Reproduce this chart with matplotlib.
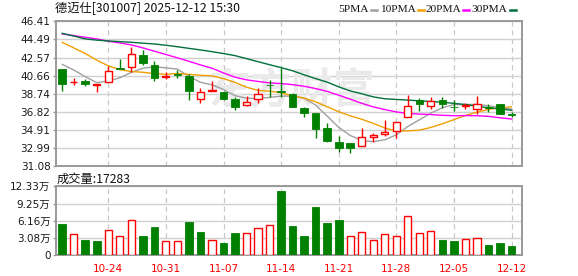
import matplotlib.pyplot as plt
from matplotlib.lines import Line2D
import numpy as np

plt.rcParams['font.family'] = ['DejaVu Sans', 'Noto Sans CJK SC']

# data
title = '德迈仕[301007] 2025-12-12 15:30'
last_volume = '17283'
date_pos = [4, 9, 14, 19, 24, 29, 34, 39]
date_labels = ['10-24', '10-31', '11-07', '11-14', '11-21', '11-28', '12-05', '12-12']

opens = [41.37, 39.95, 40.10, 39.71, 39.96, 41.47, 41.54, 42.81, 41.79, 40.56,
         40.88, 40.66, 38.20, 39.01, 38.90, 38.20, 37.53, 38.16, 39.71, 39.01,
         38.69, 37.24, 36.75, 35.13, 33.65, 33.54, 33.19, 34.14, 34.46, 34.85,
         36.26, 38.09, 37.42, 38.09, 37.39, 37.49, 37.17, 37.35, 37.63, 36.58]
highs = [41.37, 40.45, 40.31, 39.82, 41.68, 42.42, 43.73, 43.38, 42.21, 41.02,
         41.23, 40.80, 39.33, 40.06, 39.08, 38.44, 38.51, 39.33, 40.17, 41.44,
         38.83, 37.39, 36.75, 35.69, 34.32, 33.54, 35.09, 34.64, 35.94, 35.73,
         38.62, 38.27, 38.37, 38.41, 38.05, 37.77, 38.51, 37.67, 37.63, 36.86]
lows = [39.08, 39.71, 39.61, 38.97, 39.96, 41.33, 41.09, 41.79, 40.13, 40.28,
        40.38, 38.13, 37.81, 39.01, 38.09, 37.07, 37.45, 37.81, 38.44, 38.44,
        37.31, 36.29, 34.11, 33.65, 32.59, 32.52, 33.19, 33.65, 34.25, 34.11,
        36.26, 36.89, 37.17, 37.24, 36.96, 37.17, 36.65, 36.86, 36.65, 36.29]
closes = [39.82, 40.02, 39.82, 39.78, 41.12, 41.40, 42.92, 42.04, 40.45, 40.66,
          40.70, 39.08, 38.90, 39.11, 38.23, 37.39, 37.84, 38.69, 39.64, 38.93,
          37.39, 36.75, 35.06, 33.76, 33.05, 33.06, 34.14, 34.43, 34.71, 35.73,
          37.46, 37.63, 37.95, 37.63, 37.31, 37.56, 37.63, 37.28, 36.65, 36.50]
# volume in 万
volumes = [5.64, 3.80, 2.73, 2.55, 4.51, 3.44, 6.23, 3.50, 5.04, 2.55,
           2.55, 5.93, 4.15, 2.73, 2.26, 4.04, 3.98, 4.87, 5.40, 11.51,
           5.25, 3.44, 8.61, 5.76, 6.29, 3.38, 4.10, 2.67, 3.74, 3.38,
           7.00, 3.92, 4.27, 2.73, 2.55, 2.85, 3.03, 1.84, 2.20, 1.7283]

ma5 = [41.86, 41.26, 40.56, 39.92, 40.11, 40.43, 41.01, 41.45, 41.59, 41.49,
       41.35, 40.59, 39.96, 39.69, 39.20, 38.54, 38.29, 38.25, 38.36, 38.50,
       38.50, 38.28, 37.55, 36.38, 35.20, 34.34, 33.81, 33.69, 33.88, 34.41,
       35.29, 35.99, 36.70, 37.28, 37.60, 37.62, 37.62, 37.48, 37.29, 37.12]
ma10 = [44.19, 43.60, 43.00, 42.30, 41.70, 41.30, 41.10, 41.02, 40.88, 40.80,
        40.89, 40.80, 40.71, 40.64, 40.35, 39.95, 39.44, 39.11, 39.02, 38.85,
        38.52, 38.29, 37.90, 37.37, 36.85, 36.42, 36.05, 35.62, 35.13, 34.81,
        34.82, 34.90, 35.19, 35.58, 36.01, 36.46, 36.80, 37.09, 37.28, 37.36]
ma20 = [45.07, 44.90, 44.72, 44.55, 44.30, 44.12, 43.91, 43.60, 43.25, 42.90,
        42.55, 42.18, 41.80, 41.45, 40.95, 40.50, 40.22, 40.05, 39.90, 39.83,
        39.71, 39.54, 39.30, 39.00, 38.60, 38.18, 37.74, 37.36, 37.08, 36.83,
        36.67, 36.60, 36.55, 36.47, 36.43, 36.44, 36.43, 36.36, 36.21, 36.08]
ma30 = [45.14, 44.85, 44.55, 44.42, 44.33, 44.26, 44.19, 44.10, 44.01, 43.88,
        43.72, 43.55, 43.38, 43.20, 43.00, 42.78, 42.46, 42.14, 41.82, 41.51,
        41.18, 40.75, 40.35, 39.98, 39.48, 39.05, 38.75, 38.42, 38.22, 38.15,
        38.08, 38.00, 37.93, 37.86, 37.73, 37.61, 37.43, 37.27, 37.15, 37.01]

price_ticks = [31.08, 32.99, 34.91, 36.82, 38.74, 40.66, 42.57, 44.49, 46.41]
vol_ticks = [0, 3.08, 6.16, 9.25, 12.33]
vol_labels = ['0', '3.08万', '6.16万', '9.25万', '12.33万']

ma_names = ['5PMA', '10PMA', '20PMA', '30PMA']
ma_colors = ['#a0a0a0', '#f0a000', '#ff00ff', '#00703c']

RED = '#ff0000'
GREEN = '#008000'

W, H = 578, 276
fig = plt.figure(figsize=(W / 100, H / 100), dpi=100)


def box(l, t, r, b):
    return [l / W, 1 - b / H, (r - l) / W, (b - t) / H]


ax = fig.add_axes(box(56, 21.3, 522, 166.3))
axv = fig.add_axes(box(56, 186.3, 522, 255.3))

o = np.array(opens)
c = np.array(closes)
hi = np.array(highs)
lo = np.array(lows)
x = np.arange(len(c))
up = c >= o
top = np.maximum(o, c)
bot = np.minimum(o, c)
body = np.maximum(top - bot, 0.03)

# watermark
ax.text(0.505, 0.52, '东方财富', transform=ax.transAxes, ha='center', va='center',
        fontsize=30, fontweight='bold', color='#eaeaea', zorder=1,
        family=['Noto Sans CJK SC'])

# moving averages
for vals, col in zip([ma5, ma10, ma20, ma30], ma_colors):
    ax.plot(x, vals, color=col, lw=1.0, zorder=2)

# candles
for mask, col in [(up, RED), (~up, GREEN)]:
    ax.vlines(x[mask], lo[mask], bot[mask], color=col, lw=1, zorder=3)
    ax.vlines(x[mask], top[mask], hi[mask], color=col, lw=1, zorder=3)
ax.bar(x[up], body[up], bottom=bot[up], width=0.62, facecolor='white',
       edgecolor=RED, lw=1, zorder=4)
ax.bar(x[~up], body[~up], bottom=bot[~up], width=0.66, facecolor=GREEN,
       edgecolor=GREEN, lw=0.6, zorder=4)

# volume, coloured by change vs previous close
vol = np.array(volumes)
vol_up = np.concatenate([[up[0]], c[1:] >= c[:-1]])
axv.bar(x[vol_up], vol[vol_up], width=0.62, facecolor='white', edgecolor=RED,
        lw=1, zorder=3)
axv.bar(x[~vol_up], vol[~vol_up], width=0.66, facecolor=GREEN, edgecolor=GREEN,
        lw=0.6, zorder=3)

for a in (ax, axv):
    a.set_xlim(-0.54, 39.91)
    a.set_axisbelow(True)
    a.set_xticks(date_pos)
    a.grid(axis='y', color='#d0d0d0', lw=1)
    a.grid(axis='x', color='#c8c8c8', lw=0.9, ls=(0, (4, 3)))
    for s in a.spines.values():
        s.set_color('#999999')
        s.set_linewidth(1.4)
    a.tick_params(axis='y', labelsize=7.5, labelcolor='#1a1a1a', color='#999999',
                  length=2.5, width=1, pad=1.5)

ax.set_ylim(price_ticks[0], price_ticks[-1])
ax.set_yticks(price_ticks, [f'{v:.2f}' for v in price_ticks])
ax.tick_params(axis='x', length=0, labelbottom=False)

axv.set_ylim(vol_ticks[0], vol_ticks[-1])
axv.set_yticks(vol_ticks, vol_labels)
axv.set_xticks(date_pos, date_labels)
axv.tick_params(axis='x', length=0, pad=6, labelsize=7.5, labelcolor=RED)

# header texts
fig.text(55 / W, 1 - 8.5 / H, title, ha='left', va='center', fontsize=8.8,
         family=['Noto Sans CJK SC', 'DejaVu Sans'], color='#111111')
fig.text(57 / W, 1 - 179 / H, '成交量:' + last_volume, ha='left', va='center',
         fontsize=8.8, family=['Noto Sans CJK SC', 'DejaVu Sans'], color='#111111')

# legend
leg_x = [338.7, 380, 425.7, 471.7]
fig.canvas.draw()
renderer = fig.canvas.get_renderer()
for name, col, lx in zip(ma_names, ma_colors, leg_x):
    t = fig.text(lx / W, 1 - 9 / H, name, ha='left', va='center', fontsize=8.2,
                 family=['Liberation Serif'], color='#111111')
    bb = t.get_window_extent(renderer)
    x0 = bb.x1 + 2
    fig.add_artist(Line2D([x0 / W, (x0 + 6) / W], [1 - 9.5 / H, 1 - 9.5 / H],
                          color=col, lw=1.8, transform=fig.transFigure))

fig.savefig('out.png', dpi=100)
